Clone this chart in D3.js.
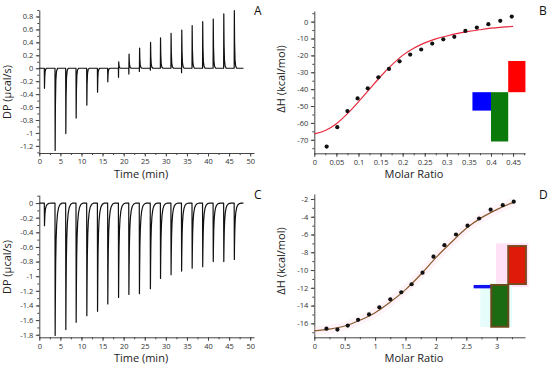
<!DOCTYPE html>
<html>
<head>
<meta charset="utf-8">
<script src="https://cdn.jsdelivr.net/npm/d3@7"></script>
<style>
  body { margin: 0; background: #fff; }
  svg { display: block; font-family: "Open Sans", sans-serif; }
</style>
</head>
<body>
<div id="wrapper"></div>
<script>
// injection times (min), shared by both thermograms
const injectionTimes = [1.19, 3.72, 6.25, 8.7, 11.23, 13.77, 16.2, 18.75, 21.2, 23.7, 26.3, 28.7, 31.2, 33.7, 36.2, 38.7, 41.2, 43.7, 46.2]
const traceEnd = 48.4

// panel A: peak heights and small opposite dips (µcal/s)
const peaksA = [-0.31, -1.27, -1.01, -0.77, -0.57, -0.37, -0.21, 0.10, 0.22, 0.31, 0.40, 0.47, 0.54, 0.59, 0.66, 0.72, 0.76, 0.84, 0.89]
const dipsA = [0, 0, 0, 0, 0, 0, 0, -0.14, -0.09, -0.05, -0.03, 0, 0, -0.07, 0, 0, 0, 0, 0]

// panel C: peak heights (µcal/s)
const peaksC = [-0.31, -1.81, -1.73, -1.63, -1.54, -1.48, -1.38, -1.29, -1.25, -1.24, -1.17, -1.03, -0.98, -0.93, -0.89, -0.87, -0.80, -0.80, -0.77]

// panel B: integrated heats
const ratioB = [0.028, 0.052, 0.075, 0.098, 0.121, 0.145, 0.169, 0.193, 0.217, 0.242, 0.267, 0.292, 0.317, 0.342, 0.368, 0.394, 0.421, 0.447]
const heatB = [-74, -62.5, -53, -45.5, -39.5, -33, -28, -23.5, -19.5, -16.5, -13, -10.5, -9, -5.5, -3.5, -1.5, 0.5, 3]
const fitRatioB = [0, 0.025, 0.05, 0.075, 0.1, 0.125, 0.15, 0.175, 0.2, 0.225, 0.25, 0.275, 0.3, 0.325, 0.35, 0.375, 0.4, 0.425, 0.45]
const fitHeatB = [-66.5, -64.5, -60.5, -54.5, -47.5, -40, -32.5, -25.8, -20, -15.8, -12.6, -10.2, -8.5, -7, -5.8, -4.8, -3.9, -3.3, -2.8]

// panel D: integrated heats
const ratioD = [0.2, 0.38, 0.55, 0.72, 0.9, 1.07, 1.25, 1.43, 1.6, 1.78, 1.96, 2.14, 2.33, 2.52, 2.71, 2.9, 3.1, 3.28]
const heatD = [-16.6, -16.7, -16.25, -15.6, -15.0, -14.2, -13.3, -12.5, -11.6, -10.3, -8.5, -7.2, -6.0, -5.0, -4.2, -3.2, -2.7, -2.3]
const fitRatioD = [0, 0.25, 0.5, 0.75, 1.0, 1.25, 1.5, 1.75, 2.0, 2.25, 2.5, 2.75, 3.0, 3.28]
const fitHeatD = [-16.85, -16.65, -16.3, -15.65, -14.8, -13.6, -12.2, -10.5, -8.6, -6.9, -5.3, -4.1, -3.2, -2.35]

// inset blocks in data units
const blocksB = [
  { x0: 0.439, x1: 0.478, y0: -23.3, y1: -41.8, fill: "#ff0000" },
  { x0: 0.358, x1: 0.400, y0: -41.8, y1: -52.7, fill: "#0000ff" },
  { x0: 0.400, x1: 0.439, y0: -41.8, y1: -71.0, fill: "#0a7a0a" },
]
const blocksD = [
  { x0: 2.99, x1: 3.52, y0: -7.0, y1: -11.9, fill: "#ffe0f4" },
  { x0: 2.73, x1: 3.25, y0: -11.5, y1: -16.4, fill: "#e6fdfb" },
  { x0: 3.19, x1: 3.48, y0: -7.3, y1: -11.57, fill: "#e01a08", stroke: "#7b4a1e" },
  { x0: 2.62, x1: 2.92, y0: -11.68, y1: -12.06, fill: "#1010f0" },
  { x0: 2.91, x1: 3.19, y0: -11.68, y1: -16.38, fill: "#1c6a12", stroke: "#6b4a1e" },
]

// tick values
const timeTicks = [0, 5, 10, 15, 20, 25, 30, 35, 40, 45, 50]
const dpTicksA = [-1.2, -1, -0.8, -0.6, -0.4, -0.2, 0, 0.2, 0.4, 0.6, 0.8]
const dpTicksC = [-1.8, -1.6, -1.4, -1.2, -1, -0.8, -0.6, -0.4, -0.2, 0]
const ratioTicksB = [0, 0.05, 0.1, 0.15, 0.2, 0.25, 0.3, 0.35, 0.4, 0.45]
const heatTicksB = [-70, -60, -50, -40, -30, -20, -10, 0]
const ratioTicksD = [0, 0.5, 1, 1.5, 2, 2.5, 3]
const heatTicksD = [-16, -14, -12, -10, -8, -6, -4, -2]

const width = 550
const height = 368

const wrapper = d3.select("#wrapper")
  .append("svg")
  .attr("width", width)
  .attr("height", height)

const fmt = d => `${Math.round(d * 1000) / 1000}`
const halfSteps = (ticks, lo, hi) => {
  const step = (ticks[1] - ticks[0]) / 2
  const out = []
  for (let v = ticks[0] - step * 4; v <= hi + 1e-9; v += step) {
    if (v >= lo - 1e-9) out.push(Math.round(v * 10000) / 10000)
  }
  return out
}

function drawAxes(panel) {
  const { xScale, yScale, xTicks, yTicks } = panel
  const x0 = xScale.range()[0]
  const y0 = yScale.range()[0]

  const yMinor = halfSteps(yTicks, yScale.domain()[0], yScale.domain()[1])
  const xMinor = halfSteps(xTicks, xScale.domain()[0], xScale.domain()[1])

  wrapper.append("g")
    .attr("transform", `translate(0,${y0})`)
    .call(d3.axisBottom(xScale).tickValues(xMinor).tickSize(2).tickSizeOuter(0).tickFormat(""))
    .call(g => g.select(".domain").remove())
    .call(g => g.selectAll("line").attr("stroke", "#444"))

  wrapper.append("g")
    .attr("transform", `translate(${x0},0)`)
    .call(d3.axisLeft(yScale).tickValues(yMinor).tickSize(2).tickSizeOuter(0).tickFormat(""))
    .call(g => g.select(".domain").remove())
    .call(g => g.selectAll("line").attr("stroke", "#444"))

  const xAxis = wrapper.append("g")
    .attr("transform", `translate(0,${y0})`)
    .call(d3.axisBottom(xScale).tickValues(xTicks).tickSize(3.5).tickSizeOuter(0).tickPadding(2.5).tickFormat(fmt))

  const yAxis = wrapper.append("g")
    .attr("transform", `translate(${x0},0)`)
    .call(d3.axisLeft(yScale).tickValues(yTicks).tickSize(3.5).tickSizeOuter(0).tickPadding(2.5).tickFormat(fmt))

  ;[xAxis, yAxis].forEach(ax => {
    ax.select(".domain").attr("stroke", "#444")
    ax.selectAll("line").attr("stroke", "#444")
    ax.selectAll("text")
      .attr("fill", "#333")
      .style("font-size", "7.5px")
      .style("font-family", "'Open Sans', sans-serif")
  })

  wrapper.append("text")
    .attr("x", panel.xTitlePos[0])
    .attr("y", panel.xTitlePos[1])
    .attr("text-anchor", "middle")
    .attr("fill", "#222")
    .style("font-size", "11px")
    .text(panel.xTitle)

  wrapper.append("text")
    .attr("transform", `translate(${panel.yTitlePos[0]},${panel.yTitlePos[1]}) rotate(-90)`)
    .attr("text-anchor", "middle")
    .attr("fill", "#222")
    .style("font-size", "11px")
    .text(panel.yTitle)

  wrapper.append("text")
    .attr("x", panel.letterPos[0])
    .attr("y", panel.letterPos[1])
    .attr("fill", "#111")
    .style("font-size", "12px")
    .text(panel.letter)
}

// peak shapes: [time offset (min), fraction of peak]
const shapeA = [[0.04, 1], [0.1, 0.45], [0.2, 0.15], [0.35, 0.04], [0.6, 0]]
const shapeC = [[0.04, 1], [0.09, 0.72], [0.16, 0.46], [0.26, 0.28], [0.4, 0.16], [0.6, 0.08], [0.85, 0.035], [1.2, 0.01], [1.7, 0]]

function thermogram(peaks, dips, shape) {
  const pts = [[0, 0]]
  injectionTimes.forEach((t, i) => {
    pts.push([t, 0])
    let offset = 0
    if (dips && dips[i] !== 0) {
      pts.push([t + 0.03, dips[i]])
      offset = 0.04
    }
    shape.forEach(([dt, f]) => pts.push([t + dt + offset, peaks[i] * f]))
  })
  pts.push([traceEnd, 0])
  return pts
}

// ---------- panel A ----------
const panelA = {
  xScale: d3.scaleLinear().domain([0, 50.9]).range([39.3, 254]),
  yScale: d3.scaleLinear().domain([-1.31, 0.9]).range([153, 10]),
  xTicks: timeTicks, yTicks: dpTicksA,
  xTitle: "Time (min)", xTitlePos: [141, 178],
  yTitle: "DP (µcal/s)", yTitlePos: [11, 92],
  letter: "A", letterPos: [254, 15],
}
drawAxes(panelA)
wrapper.append("path")
  .attr("d", d3.line().x(d => panelA.xScale(d[0])).y(d => panelA.yScale(d[1]))(thermogram(peaksA, dipsA, shapeA)))
  .attr("fill", "none")
  .attr("stroke", "#111")
  .attr("stroke-width", 1.2)
  .attr("stroke-linejoin", "round")

// ---------- panel C ----------
const panelC = {
  xScale: d3.scaleLinear().domain([0, 50.9]).range([39.3, 254]),
  yScale: d3.scaleLinear().domain([-1.835, 0.11]).range([337.3, 195]),
  xTicks: timeTicks, yTicks: dpTicksC,
  xTitle: "Time (min)", xTitlePos: [141, 362],
  yTitle: "DP (µcal/s)", yTitlePos: [11, 267],
  letter: "C", letterPos: [254, 199],
}
drawAxes(panelC)
wrapper.append("path")
  .attr("d", d3.line().x(d => panelC.xScale(d[0])).y(d => panelC.yScale(d[1]))(thermogram(peaksC, null, shapeC)))
  .attr("fill", "none")
  .attr("stroke", "#111")
  .attr("stroke-width", 1.2)
  .attr("stroke-linejoin", "round")

// ---------- panel B ----------
const panelB = {
  xScale: d3.scaleLinear().domain([0, 0.477]).range([314.3, 525]),
  yScale: d3.scaleLinear().domain([-78, 6.3]).range([153.3, 11]),
  xTicks: ratioTicksB, yTicks: heatTicksB,
  xTitle: "Molar Ratio", xTitlePos: [414, 178],
  yTitle: "ΔH (kcal/mol)", yTitlePos: [285, 79],
  letter: "B", letterPos: [539, 15],
}
drawAxes(panelB)

wrapper.append("g")
  .selectAll("rect")
  .data(blocksB)
  .join("rect")
  .attr("x", d => panelB.xScale(d.x0))
  .attr("width", d => panelB.xScale(d.x1) - panelB.xScale(d.x0))
  .attr("y", d => panelB.yScale(d.y0))
  .attr("height", d => panelB.yScale(d.y1) - panelB.yScale(d.y0))
  .attr("fill", d => d.fill)

wrapper.append("path")
  .attr("d", d3.line().curve(d3.curveMonotoneX)
    .x((d, i) => panelB.xScale(fitRatioB[i]))
    .y(d => panelB.yScale(d))(fitHeatB))
  .attr("fill", "none")
  .attr("stroke", "#e8283c")
  .attr("stroke-width", 1.2)

wrapper.append("g")
  .selectAll("circle")
  .data(heatB)
  .join("circle")
  .attr("cx", (d, i) => panelB.xScale(ratioB[i]))
  .attr("cy", d => panelB.yScale(d))
  .attr("r", 2.1)
  .attr("fill", "#111")

// ---------- panel D ----------
const panelD = {
  xScale: d3.scaleLinear().domain([0, 3.465]).range([314.3, 525]),
  yScale: d3.scaleLinear().domain([-17.57, -1.44]).range([337.3, 194]),
  xTicks: ratioTicksD, yTicks: heatTicksD,
  xTitle: "Molar Ratio", xTitlePos: [414, 362],
  yTitle: "ΔH (kcal/mol)", yTitlePos: [285, 261],
  letter: "D", letterPos: [539, 199],
}
drawAxes(panelD)

wrapper.append("g")
  .selectAll("rect")
  .data(blocksD)
  .join("rect")
  .attr("x", d => panelD.xScale(d.x0))
  .attr("width", d => panelD.xScale(d.x1) - panelD.xScale(d.x0))
  .attr("y", d => panelD.yScale(d.y0))
  .attr("height", d => panelD.yScale(d.y1) - panelD.yScale(d.y0))
  .attr("fill", d => d.fill)
  .attr("stroke", d => d.stroke || "none")
  .attr("stroke-width", 2)

const fitLineD = d3.line().curve(d3.curveMonotoneX)
  .x((d, i) => panelD.xScale(fitRatioD[i]))
  .y(d => panelD.yScale(d))

wrapper.append("path")
  .attr("d", fitLineD(fitHeatD))
  .attr("fill", "none")
  .attr("stroke", "#ffd6ee")
  .attr("stroke-opacity", 0.3)
  .attr("stroke-width", 9)

wrapper.append("path")
  .attr("d", fitLineD(fitHeatD))
  .attr("fill", "none")
  .attr("stroke", "#8b5a2b")
  .attr("stroke-width", 1.2)

wrapper.append("g")
  .selectAll("circle")
  .data(heatD)
  .join("circle")
  .attr("cx", (d, i) => panelD.xScale(ratioD[i]))
  .attr("cy", d => panelD.yScale(d))
  .attr("r", 2.1)
  .attr("fill", "#111")
</script>
</body>
</html>
